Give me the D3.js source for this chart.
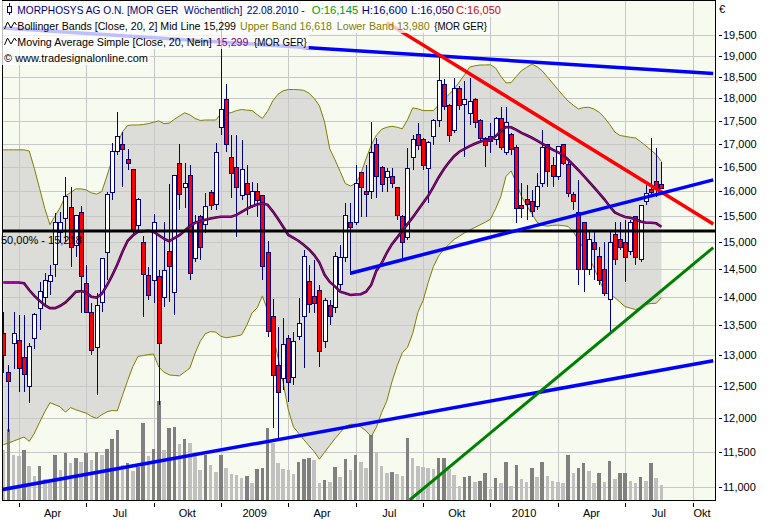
<!DOCTYPE html>
<html><head><meta charset="utf-8">
<script src="https://cdn.jsdelivr.net/npm/d3@7"></script>
<style>
html,body{margin:0;padding:0;background:#fff;}
svg{display:block;font-family:"Liberation Sans",Arial,sans-serif;font-size:11px;}
</style></head><body>
<svg id="c" width="769" height="520"></svg>
<script>
// ---------- DATA (prices in EUR, weekly bars from 14.03.2008 to 20.08.2010) ----------
const open = [13.36,12.71,13.19,13.24,12.955,12.49,13.27,13.80,13.995,14.27,
14.575,15.18,15.45,15.67,14.93,15.57,14.23,13.715,13.12,13.89,
14.80,15.97,16.82,16.99,16.67,16.44,15.315,14.99,14.375,14.30,
14.355,13.995,14.82,14.067,16.565,16.07,16.335,14.69,15.49,15.335,
15.97,15.73,17.34,17.965,16.695,16.50,15.91,16.17,15.69,15.99,
15.91,14.80,13.645,12.825,12.615,13.27,12.635,13.305,13.645,14.265,
14.01,14.105,13.22,13.84,13.805,14.21,14.705,15.39,15.39,16.38,
15.99,15.99,16.99,16.50,16.275,16.295,16.07,15.49,15.10,16.695,
17.19,17.08,16.48,17.145,17.495,18.33,17.83,17.275,18.24,17.855,
17.65,17.965,17.495,17.10,17.145,17.08,17.54,16.80,17.19,16.905,
15.71,15.83,15.79,15.69,16.17,16.99,16.525,16.295,16.99,16.545,
15.93,15.57,15.39,14.485,15.005,14.725,14.50,13.945,15.14,15.045,
15.005,14.82,15.49,14.67,15.79,16.03,16.195,16.145];
const high = [13.73,12.84,13.73,13.68,13.68,13.20,13.715,14.27,14.43,14.575,
15.57,15.59,16.295,16.09,15.53,15.71,14.575,13.89,14.065,14.705,
15.99,17.015,17.695,17.255,16.885,16.46,15.87,15.12,14.54,15.55,
14.485,15.39,16.15,16.335,16.99,16.585,16.545,15.53,15.53,15.97,
16.03,17.015,19.88,18.335,17.19,17.19,17.08,16.545,16.195,16.17,
15.93,15.025,13.96,13.473,13.63,13.34,13.39,13.975,14.855,14.575,
14.67,14.21,13.975,13.945,14.82,14.95,15.77,15.77,16.545,16.40,
16.545,17.47,17.125,16.525,16.48,16.48,16.08,15.53,16.905,17.19,
17.45,17.125,17.055,17.54,19.02,18.45,17.875,18.47,18.29,18.405,
18.47,18.01,17.54,17.145,17.45,17.585,17.81,17.81,17.232,16.97,
16.17,16.13,16.03,16.38,17.295,17.00,16.715,16.94,17.00,16.61,
15.99,16.235,15.40,15.24,15.20,14.91,15.005,15.20,15.39,15.39,
15.43,15.43,15.50,15.72,16.13,17.125,16.905,16.60];
const low = [12.71,11.80,12.78,12.40,12.41,12.24,13.10,13.42,13.855,14.03,
14.355,14.985,15.005,14.54,14.725,13.715,13.715,13.005,12.365,13.73,
14.30,15.83,16.755,16.09,16.44,15.14,15.20,13.645,13.945,13.89,
12.21,13.82,13.91,13.68,15.63,15.67,14.30,14.63,14.67,15.18,
15.63,15.63,17.19,16.82,15.87,15.10,15.83,15.53,15.67,15.49,
14.30,13.305,11.855,11.68,12.44,12.255,12.52,13.255,12.795,13.715,
13.715,12.81,13.12,13.51,13.715,14.12,14.63,14.395,15.335,15.49,
15.49,15.85,15.87,15.99,15.99,16.07,15.43,14.67,15.045,16.44,
16.865,16.44,15.77,16.97,17.365,17.74,17.035,17.23,17.74,16.715,
17.405,17.34,17.035,16.50,16.80,16.97,16.865,16.755,16.755,15.375,
15.47,15.43,15.49,15.63,16.09,16.09,16.09,16.235,16.545,15.89,
15.63,14.21,14.085,14.395,14.30,14.21,14.015,13.39,14.575,14.855,
14.265,14.765,14.575,14.63,15.73,15.89,15.89,16.05];
const close = [12.99,12.57,13.36,12.79,12.68,13.15,13.68,14.10,14.285,14.375,
15.375,15.39,15.89,14.91,15.51,14.355,13.73,13.085,13.84,14.69,
15.93,16.82,17.145,16.865,16.585,15.24,15.83,14.395,14.03,15.39,
13.20,14.465,14.54,16.335,15.93,16.17,14.41,15.39,14.91,15.69,
15.71,16.80,17.74,16.97,16.36,16.07,16.44,15.93,15.99,15.81,
14.54,13.39,12.665,12.395,13.17,12.55,13.22,13.54,14.725,13.855,
13.875,13.055,13.925,13.645,14.725,14.705,15.51,15.275,16.17,16.07,
15.93,16.80,16.295,16.15,16.40,16.17,15.51,14.99,16.48,17.08,
16.95,16.525,17.015,17.495,18.405,17.81,17.165,18.22,17.83,17.965,
17.92,17.45,17.10,16.95,17.035,17.54,16.905,17.47,16.865,15.65,
15.65,15.73,15.59,16.09,16.905,16.40,16.295,16.93,16.585,15.95,
15.79,14.485,14.485,15.045,14.855,14.30,14.065,15.005,14.67,14.91,
14.705,15.39,14.705,15.71,15.95,15.97,16.05,16.05];
const volume = [50,71,45,44,50,34,24,34,21,17,
45,30,47,37,42,38,47,40,48,45,
51,61,70,35,37,29,33,77,44,51,
99,50,72,73,56,61,57,47,30,45,
35,28,45,32,26,25,22,24,17,31,
32,72,57,37,31,30,26,38,41,42,
40,17,20,18,33,23,41,30,45,38,
32,65,48,34,27,28,26,24,62,42,
34,33,32,31,42,42.5,31,25,14,23,
24,18,19,27,11,22,17,38,14,35,
21,18,32,23,38,24,19,18,17,45,
27,32,37,29,17,27,18,39,21,27,
27.5,19,17,23,19,37,22,15];
const bbUpper = [16.865,16.865,16.865,16.865,16.865,16.84,16.47,16.06,15.66,15.34,
15.51,15.68,15.91,15.975,16.05,16.05,16.03,15.97,15.945,15.995,
16.315,16.655,16.98,17.255,17.395,17.405,17.405,17.415,17.435,17.465,
17.495,17.435,17.445,17.53,17.605,17.675,17.63,17.55,17.505,17.515,
17.515,17.515,17.65,17.66,17.68,17.725,17.75,17.735,17.725,17.635,
17.55,17.71,17.945,18.095,18.175,18.205,18.205,18.20,18.185,18.12,
18.00,17.835,17.47,16.885,16.655,16.41,16.16,16.11,16.16,16.36,
16.675,16.965,17.18,17.31,17.355,17.375,17.355,17.32,17.52,17.785,
17.765,17.725,17.725,17.725,17.855,17.975,18.09,18.22,18.38,18.545,
18.73,18.76,18.78,18.78,18.785,18.71,18.515,18.36,18.365,18.51,
18.645,18.725,18.80,18.74,18.64,18.495,18.355,18.21,18.07,17.94,
17.845,17.76,17.795,17.80,17.76,17.685,17.57,17.42,17.25,17.175,
17.155,17.135,17.12,17.04,16.95,16.855,16.765,16.618];
const bbLower = [11.605,11.63,11.66,11.69,11.72,11.655,11.775,11.94,12.10,12.24,
12.21,12.175,12.095,12.165,12.13,12.105,12.08,12.03,12.00,12.055,
12.10,12.12,12.115,12.355,12.59,12.815,12.98,12.995,13.01,13.02,
12.805,12.725,12.68,12.67,12.665,12.725,12.79,13.03,13.23,13.36,
13.395,13.385,13.315,13.29,13.305,13.32,13.34,13.505,13.715,13.805,
14.015,13.755,13.35,12.965,12.555,12.13,11.87,11.775,11.68,11.59,
11.505,11.395,11.495,11.595,11.695,11.785,11.88,11.91,11.91,11.87,
11.81,11.725,11.865,12.085,12.265,12.57,12.825,13.04,13.13,13.36,
13.725,13.93,14.255,14.545,14.74,14.865,14.96,15.055,15.115,15.18,
15.235,15.285,15.335,15.385,15.445,15.65,15.89,16.305,16.42,16.165,
15.90,15.715,15.55,15.39,15.325,15.31,15.325,15.33,15.32,15.305,
15.20,15.04,14.88,14.715,14.52,14.305,14.085,14.04,13.985,13.905,
13.825,13.80,13.775,13.81,13.865,13.88,13.885,13.98];
const sma20 = [14.255,14.255,14.255,14.255,14.24,14.12,14.015,13.93,13.85,13.80,
13.80,13.84,13.90,13.99,14.09,14.10,14.075,14.00,13.985,14.05,
14.205,14.38,14.585,14.82,15.03,15.13,15.205,15.21,15.22,15.20,
15.135,15.07,15.02,15.08,15.135,15.22,15.31,15.375,15.405,15.435,
15.46,15.48,15.495,15.495,15.495,15.53,15.59,15.65,15.70,15.735,
15.76,15.73,15.60,15.455,15.30,15.14,15.085,15.025,14.95,14.865,
14.76,14.62,14.395,14.265,14.185,14.09,14.06,14.03,14.04,14.045,
14.09,14.21,14.47,14.605,14.80,14.965,15.09,15.22,15.35,15.48,
15.62,15.765,15.91,16.09,16.285,16.455,16.60,16.73,16.825,16.885,
16.945,16.995,17.04,17.075,17.07,17.155,17.275,17.36,17.355,17.295,
17.23,17.18,17.125,17.065,17.00,16.935,16.87,16.815,16.76,16.655,
16.545,16.435,16.32,16.20,16.08,15.96,15.84,15.70,15.58,15.53,
15.49,15.475,15.445,15.40,15.375,15.375,15.365,15.299];
const yTickValues = [11,11.5,12,12.5,13,13.5,14,14.5,15,15.5,16,16.5,17,17.5,18,18.5,19,19.5];
const xTickLabels = ["Apr","Jul","Okt","2009","Apr","Jul","Okt","2010","Apr","Jul","Okt"];
const retracementPct = 50;
const retracementLevel = 15.218;
const trendFrom = [["2008-03-07",19.685],["2009-08-14",19.816],["2009-06-26",14.424],["2008-03-07",10.954],["2009-09-14",10.82]];
const trendTo   = [["2010-10-29",18.576],["2010-10-29",15.351],["2010-10-29",16.234],["2010-10-29",12.91],["2010-10-29",14.90]];
const trendColors = ["#0000ff","#ff0000","#0000ff","#0000ff","#008000"];
const titleText = "MORPHOSYS AG O.N. [MOR GER  Wöchentlich]";
const dateText = "22.08.2010 -";

// ---------- SCALES ----------
const svg = d3.select("#c");
const P = {l:2, t:0, r:715, b:500};
const weeks = d3.timeFriday.range(new Date(2008,2,14), new Date(2010,7,21));
const x = d3.scaleTime().domain([new Date(2008,2,14), new Date(2010,9,1)]).range([3.3, 692.5]);
const y = d3.scaleLog().domain([11, 19.5]).range([487, 35.3]);
const yv = d3.scaleLinear().domain([0, 110]).range([500, 390]);
const de = d3.formatLocale({decimal:",", thousands:".", grouping:[3], currency:["",""]});
const f3 = de.format(".3f"), f2 = de.format(".2f");
const parse = d3.timeParse("%Y-%m-%d");
const data = weeks.map((d,i)=>({d, i, o:open[i], h:high[i], l:low[i], c:close[i], v:volume[i], u:bbUpper[i], lo:bbLower[i], m:sma20[i]}));
const quarters = d3.timeMonth.every(3).range(new Date(2008,3,1), new Date(2010,10,1)).map(d=>d3.timeFriday.ceil(d));

svg.append("rect").attr("width",769).attr("height",520).attr("fill","#fff");
const defs = svg.append("defs");
defs.append("clipPath").attr("id","clip").append("rect").attr("x",P.l).attr("y",P.t).attr("width",P.r-P.l).attr("height",P.b-P.t);
svg.append("rect").attr("x",P.l).attr("y",P.t).attr("width",P.r-P.l).attr("height",P.b-P.t).attr("fill","#f7faee");

const g = svg.append("g").attr("clip-path","url(#clip)");
g.append("path").datum(data)
 .attr("d", d3.area().x(d=>x(d.d)).y0(d=>y(d.lo)).y1(d=>y(d.u)))
 .attr("fill","#dcddd8");
g.append("g").selectAll("line").data(yTickValues).join("line")
 .attr("x1",P.l).attr("x2",P.r).attr("y1",d=>Math.round(y(d))+0.5).attr("y2",d=>Math.round(y(d))+0.5)
 .attr("stroke","#c8c8c8").attr("stroke-width",1);
g.append("g").selectAll("line").data(quarters).join("line")
 .attr("y1",P.t).attr("y2",P.b).attr("x1",d=>Math.round(x(d))+0.5).attr("x2",d=>Math.round(x(d))+0.5)
 .attr("stroke","#c8c8c8").attr("stroke-width",1);
g.append("g").selectAll("rect").data(data).join("rect")
 .attr("x",d=>x(d.d)-1.75).attr("width",3.5)
 .attr("y",d=>yv(d.v)).attr("height",d=>yv(0)-yv(d.v))
 .attr("fill",(d,i)=> i>0 && d.v>volume[i-1] ? "#808080" : "#c0c0c0")
 .attr("shape-rendering","crispEdges");
const lineU = d3.line().x(d=>x(d.d)).y(d=>y(d.u));
const lineL = d3.line().x(d=>x(d.d)).y(d=>y(d.lo));
g.append("path").datum(data).attr("d",lineU).attr("fill","none").attr("stroke","#808000").attr("stroke-width",1);
g.append("path").datum(data).attr("d",lineL).attr("fill","none").attr("stroke","#808000").attr("stroke-width",1);
const cg = g.append("g");
data.forEach(d=>{
  const cx = Math.round(x(d.d));
  cg.append("line").attr("x1",cx+0.5).attr("x2",cx+0.5).attr("y1",y(d.h)).attr("y2",y(d.l))
    .attr("stroke","#000080").attr("stroke-width",1).attr("shape-rendering","crispEdges");
  const top = y(Math.max(d.o,d.c)), bot = y(Math.min(d.o,d.c));
  cg.append("rect").attr("x",cx-1.5).attr("width",4).attr("y",top).attr("height",Math.max(1,bot-top))
    .attr("fill", d.c>=d.o ? "#ffffff" : "#ff0000").attr("stroke","#000080").attr("stroke-width",1)
    .attr("shape-rendering","crispEdges");
});
const lineM = d3.line().x(d=>x(d.d)).y(d=>y(d.m));
g.append("path").datum(data).attr("d",lineM).attr("fill","none").attr("stroke","#3c0030").attr("stroke-width",2.6);
g.append("path").datum(data).attr("d",lineM).attr("fill","none").attr("stroke","#b000b0").attr("stroke-width",1);
g.append("line").attr("x1",P.l).attr("x2",P.r).attr("y1",y(retracementLevel)).attr("y2",y(retracementLevel))
 .attr("stroke","#000").attr("stroke-width",3);
svg.append("text").attr("x",1).attr("y",y(retracementLevel)+13).attr("fill","#000")
 .text(f2(retracementPct)+"% - "+f3(retracementLevel));
trendFrom.forEach((a,k)=>{
  const b = trendTo[k];
  g.append("line").attr("x1",x(parse(a[0]))).attr("y1",y(a[1])).attr("x2",x(parse(b[0]))).attr("y2",y(b[1]))
   .attr("stroke",trendColors[k]).attr("stroke-width",k===4?3:3.5);
});
svg.append("rect").attr("x",P.l+0.5).attr("y",P.t+0.5).attr("width",P.r-P.l).attr("height",P.b-P.t-0.5)
 .attr("fill","none").attr("stroke","#000").attr("stroke-width",1).attr("shape-rendering","crispEdges");

const ya = svg.append("g");
ya.append("text").attr("x",719).attr("y",13).text("€");
yTickValues.forEach(v=>{
  const yy = Math.round(y(v))+0.5;
  ya.append("line").attr("x1",719).attr("x2",722).attr("y1",yy).attr("y2",yy).attr("stroke","#000");
  ya.append("text").attr("x",723).attr("y",yy).attr("dy","0.35em").attr("fill","#000").text(f3(v));
});
const xa = svg.append("g");
quarters.forEach((q,k)=>{
  const xx = Math.round(x(q))+0.5;
  xa.append("line").attr("x1",xx).attr("x2",xx).attr("y1",503).attr("y2",507).attr("stroke","#000");
  const nx = k<quarters.length-1 ? x(quarters[k+1]) : x(q)+ (x(q)-x(quarters[k-1]));
  const cx = Math.min((x(q)+nx)/2, 702);
  xa.append("text").attr("x",cx).attr("y",517).attr("text-anchor","middle").text(xTickLabels[k]);
});

// ---------- LEGEND ----------
const last = data[data.length-1];
// segments: [text, colour, x, width]
const rows = [
  [[titleText,"#000080",17.3,225],[dateText,"#000080",246.7,58],["O:"+f3(last.o),"#00a000",311.7,46.5],
   ["H:"+f3(last.h),"#000080",361.7,45.5],["L:"+f3(last.l),"#000080",411,43],["C:"+f3(last.c),"#e00000",456,45]],
  [["Bollinger Bands [Close, 20, 2] Mid Line "+f3(last.m),"#000",17.3,218.7],["Upper Band "+f3(last.u),"#808000",240,92],
   ["Lower Band "+f3(last.lo),"#808000",336.7,93],["{MOR GER}","#000",434.3,52.7]],
  [["Moving Average Simple [Close, 20, Nein]","#000",17.3,194.4],[f3(last.m),"#800080",216,32.3],["{MOR GER}","#000",254,52.7]],
  [["© www.tradesignalonline.com","#000",4,144]]
];
const lg = svg.append("g").style("font-size","10px");
rows.forEach((r,k)=>{
  const end = d3.max(r, s=>s[2]+s[3]);
  lg.append("rect").attr("x",0).attr("y",1+16*k).attr("width",end+2).attr("height",16).attr("fill","#fff").attr("fill-opacity",0.75);
  r.forEach(s=>{
    lg.append("text").attr("x",0).attr("y",0).attr("transform",`translate(${s[2]},${13.5+16*k}) scale(1,1.1)`)
      .style("white-space","pre")
      .attr("textLength",s[3]).attr("lengthAdjust","spacingAndGlyphs").attr("fill",s[1]).text(s[0]);
  });
});
lg.append("line").attr("x1",9.5).attr("x2",9.5).attr("y1",3).attr("y2",15).attr("stroke","#000080");
lg.append("rect").attr("x",7.5).attr("y",6.5).attr("width",4).attr("height",6).attr("fill","#fff").attr("stroke","#000080");
[0,1].forEach(k=>{
  lg.append("path").attr("d",`M4.5,${29+16*k} L7.5,${22+16*k} L11,${28+16*k} L14.5,${22+16*k} L16.5,${25+16*k}`)
   .attr("fill","none").attr("stroke","#000").attr("stroke-width",1);
});
</script>
</body></html>
